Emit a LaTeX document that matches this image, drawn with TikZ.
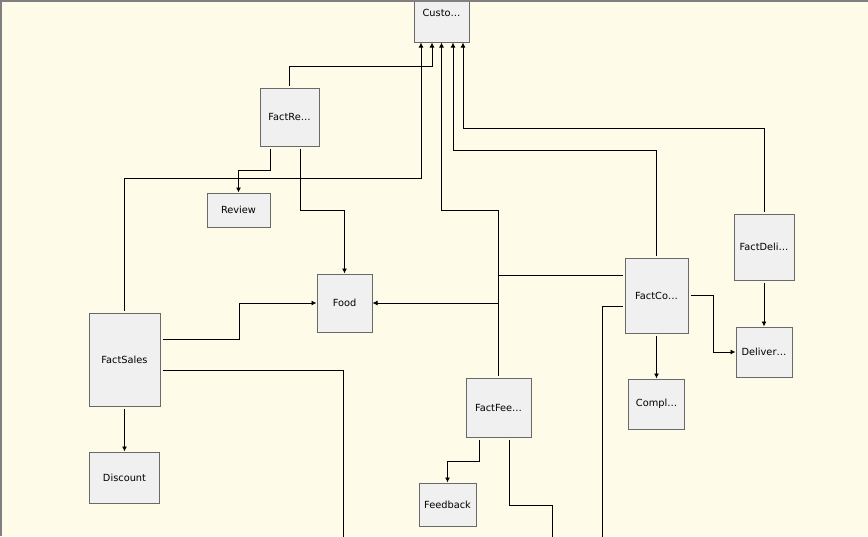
\documentclass[tikz,border=0pt]{standalone}
\usepackage{fontspec}
\setmainfont{DejaVu Sans}
\usetikzlibrary{arrows.meta}
\definecolor{bgcream}{RGB}{254,251,232}
\definecolor{boxfill}{RGB}{240,240,240}
\definecolor{boxline}{RGB}{105,105,105}
\definecolor{framegray}{RGB}{128,128,128}
\tikzset{
  tbl/.style={draw=boxline, fill=boxfill, line width=1pt, inner sep=0pt,
    font=\fontsize{9.8}{11}\selectfont, text=black},
  conn/.style={draw=black, line width=0.9pt, shorten <=2pt},
  arr/.style={conn, -{Latex[length=5pt,width=5pt]}}
}
\begin{document}
\begin{tikzpicture}[x=1pt,y=-1pt]
\useasboundingbox (0,0) rectangle (868,536);
\fill[bgcream] (0,0) rectangle (868,536);
\clip (0,0) rectangle (868,536);
% tables
\node[tbl, minimum width=55pt, minimum height=58pt] (Cu) at (441.5,13) {Custo…};
\node[tbl, minimum width=59pt, minimum height=58pt] (FR) at (289.5,117) {FactRe…};
\node[tbl, minimum width=63pt, minimum height=34pt] (Rv) at (238.5,210) {Review};
\node[tbl, minimum width=55pt, minimum height=58pt] (Fd) at (344.5,303) {Food};
\node[tbl, minimum width=71pt, minimum height=93pt] (FS) at (124.5,359.5) {FactSales};
\node[tbl, minimum width=70pt, minimum height=51pt] (Dc) at (124.5,477.5) {Discount};
\node[tbl, minimum width=65pt, minimum height=59pt] (FF) at (498.5,407.5) {FactFee…};
\node[tbl, minimum width=57pt, minimum height=43pt] (Fb) at (447.5,504.5) {Feedback};
\node[tbl, minimum width=63pt, minimum height=75pt] (FC) at (656.5,295.5) {FactCo…};
\node[tbl, minimum width=56pt, minimum height=50pt] (Cp) at (656.5,404) {Compl…};
\node[tbl, minimum width=60pt, minimum height=66pt] (FD) at (764,247) {FactDeli…};
\node[tbl, minimum width=56pt, minimum height=50pt] (Dv) at (764,352) {Deliver…};
% free ends
\coordinate (e1) at (602,540);
\coordinate (e2) at (343,540);
\coordinate (e3) at (552,540);
% connectors
\draw[arr] (FR.north) |- (432,66) -- ([xshift=-9.5pt]Cu.south);
\draw[arr] (FS.north) |- (421,178) -- ([xshift=-20.5pt]Cu.south);
\draw[arr] ([xshift=-19.5pt]FR.south) |- (238.5,170) -- (Rv.north);
\draw[arr] ([xshift=10.5pt]FR.south) |- (344.5,210) -- (Fd.north);
\draw[arr] (FF.north) |- (441.5,210) -- (Cu.south);
\draw[arr] (FC.north) |- (453,150) -- ([xshift=11.5pt]Cu.south);
\draw[arr] (FD.north) |- (463,128) -- ([xshift=21.5pt]Cu.south);
\draw[arr] (FD.south) -- (Dv.north);
\draw[arr] (FC.east) -| (713,352) -- (Dv.west);
\draw[arr] (FC.south) -- (Cp.north);
\draw[conn] ([yshift=-10.5pt]FC.west) -| (e1);
\draw[arr] ([yshift=20.5pt]FC.west) -| (498.5,303) -- (Fd.east);
\draw[arr] ([yshift=20.5pt]FS.east) -| (239,303) -- (Fd.west);
\draw[conn] ([yshift=-10.5pt]FS.east) -| (e2);
\draw[arr] (FS.south) -- (Dc.north);
\draw[arr] ([xshift=-19.5pt]FF.south) |- (447.5,461) -- (Fb.north);
\draw[conn] ([xshift=10.5pt]FF.south) |- (552,505) -- (e3);
% window frame
\fill[framegray] (0,0) rectangle (868,2);
\fill[framegray] (0,0) rectangle (2,536);
\end{tikzpicture}
\end{document}
